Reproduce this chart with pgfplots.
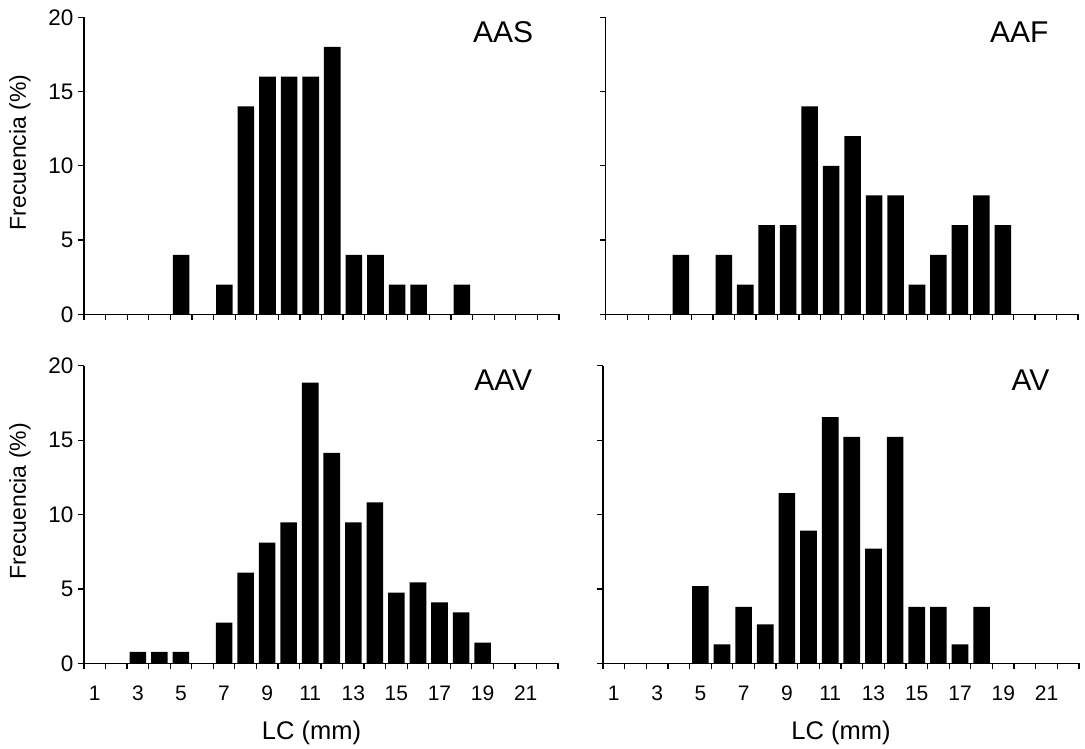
\documentclass[border=0pt]{standalone}
\usepackage{pgfplots}
\pgfplotsset{compat=1.18}
\usepackage{fontspec}
\setmainfont{Liberation Sans}

\pgfplotsset{
  hist/.style={
    scale only axis,
    ybar, bar width=0.77,
    xmin=0.5, xmax=22.5, ymin=0, ymax=20,
    axis x line*=bottom, axis y line*=left,
    axis line style={-, line width=1.2pt, black},
    every tick/.style={line width=1.2pt, black},
    tick align=outside,
    xtick={1,3,...,21},
    major x tick style={draw=none},
    minor xtick={0.5,1.5,...,22.5},
    minor tick length=6pt,
    major tick length=6pt,
    ytick={0,5,...,20},
    /pgf/number format/assume math mode=true,
    xticklabel style={font=\fontsize{21}{25}\selectfont, yshift=-13pt},
    yticklabel style={font=\fontsize{22.5}{27}\selectfont, xshift=-1pt},
    label style={font=\fontsize{25.5}{30}\selectfont},
    clip=false,
  },
  barstyle/.style={fill=black, draw=none},
}

\begin{document}
\begin{tikzpicture}[x=1pt,y=1pt]
\path[use as bounding box] (0,0) rectangle (1085,748);

% Top-left: AAS
\begin{axis}[hist, at={(84pt,433.7pt)}, anchor=south west,
  width=475pt, height=297pt,
  xticklabels={},
  ylabel={Frecuencia (\%)},
  ylabel style={at={(axis description cs:0,0.545)}, anchor=center, yshift=64pt, font=\fontsize{23}{28}\selectfont},
]
\addplot[barstyle] coordinates {(5,4)(7,2)(8,14)(9,16)(10,16)(11,16)(12,18)(13,4)(14,4)(15,2)(16,2)(18,2)};
\node[anchor=base east, font=\fontsize{30}{36}\selectfont] at (rel axis cs:0.953,0.916) {AAS};
\end{axis}

% Top-right: AAF
\begin{axis}[hist, at={(605.7pt,433.7pt)}, anchor=south west,
  width=472.3pt, height=297pt,
  xticklabels={}, yticklabels={},
]
\addplot[barstyle] coordinates {(4,4)(6,4)(7,2)(8,6)(9,6)(10,14)(11,10)(12,12)(13,8)(14,8)(15,2)(16,4)(17,6)(18,8)(19,6)};
\node[anchor=base east, font=\fontsize{30}{36}\selectfont] at (rel axis cs:0.945,0.916) {AAF};
\end{axis}

% Bottom-left: AAV
\begin{axis}[hist, at={(84pt,84.7pt)}, anchor=south west,
  width=474pt, height=297.6pt,
  ylabel={Frecuencia (\%)},
  ylabel style={at={(axis description cs:0,0.545)}, anchor=center, yshift=64pt, font=\fontsize{23}{28}\selectfont},
  xlabel={LC (mm)},
  xlabel style={at={(axis description cs:0.48,0)}, anchor=base, yshift=-75.7pt},
]
\addplot[barstyle] coordinates {(3,0.76)(4,0.76)(5,0.76)(7,2.73)(8,6.09)(9,8.11)(10,9.47)(11,18.86)(12,14.15)(13,9.47)(14,10.82)(15,4.75)(16,5.44)(17,4.10)(18,3.43)(19,1.39)};
\node[anchor=base east, font=\fontsize{30}{36}\selectfont] at (rel axis cs:0.953,0.916) {AAV};
\end{axis}

% Bottom-right: AV
\begin{axis}[hist, at={(603pt,84.7pt)}, anchor=south west,
  width=476pt, height=297.6pt,
  yticklabels={},
  xlabel={LC (mm)},
  xlabel style={at={(axis description cs:0.5,0)}, anchor=base, yshift=-75.7pt},
]
\addplot[barstyle] coordinates {(5,5.18)(6,1.27)(7,3.80)(8,2.61)(9,11.44)(10,8.92)(11,16.54)(12,15.22)(13,7.71)(14,15.22)(15,3.80)(16,3.80)(17,1.27)(18,3.80)};
\node[anchor=base east, font=\fontsize{30}{36}\selectfont] at (rel axis cs:0.945,0.916) {AV};
\end{axis}
\end{tikzpicture}
\end{document}
